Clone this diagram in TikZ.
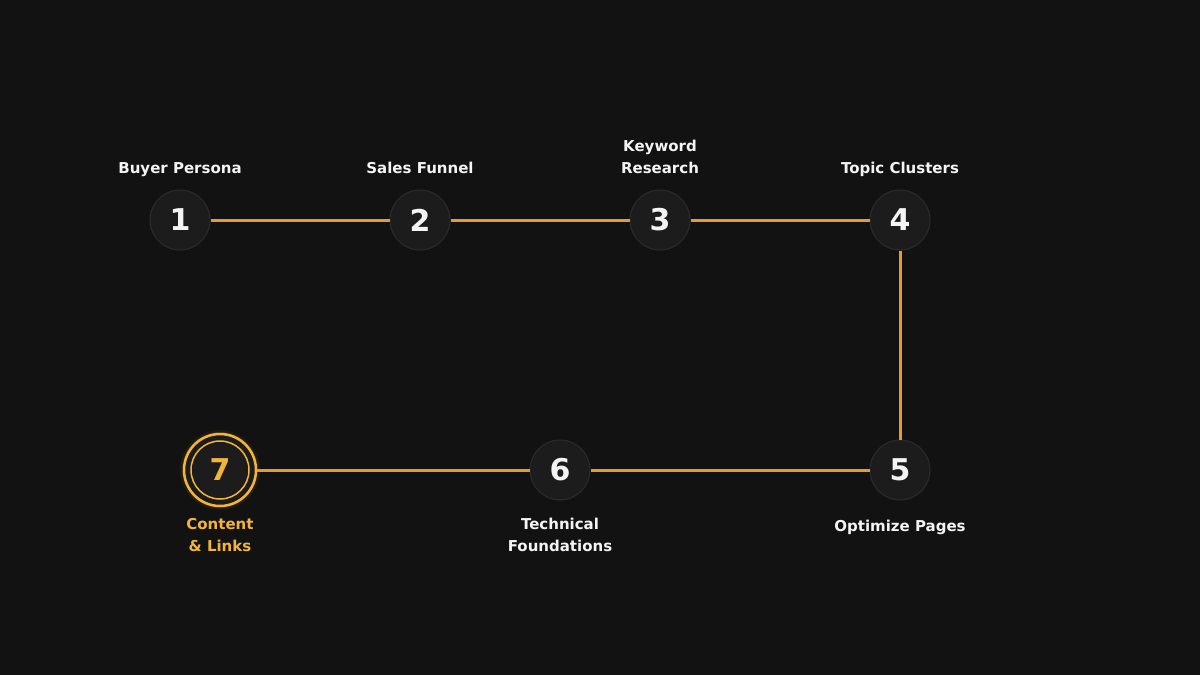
\documentclass[tikz,border=0pt]{standalone}
\usepackage{fontspec}
\setmainfont{DejaVu Sans}
\usepackage{xcolor}
\usetikzlibrary{positioning}
\definecolor{bgdark}{HTML}{121212}
\definecolor{discfill}{HTML}{1C1C1C}
\definecolor{discline}{HTML}{2C2C2C}
\definecolor{amber}{HTML}{E49C30}
\definecolor{amberlite}{HTML}{F2B53A}
\definecolor{paper}{HTML}{F4F4F4}
\tikzset{
  stepdisc/.style={circle, minimum size=60pt, inner sep=0pt, fill=discfill,
    draw=discline, line width=1pt, text=paper, font=\bfseries\fontsize{30}{30}\selectfont},
  lbl/.style={text=paper, inner sep=0pt, align=center, text height=11pt, text depth=4pt,
    font=\bfseries\fontsize{15}{22}\selectfont},
  link/.style={draw=amber, line width=3pt},
}

\begin{document}
\begin{tikzpicture}[x=1pt,y=-1pt]
  % canvas
  \useasboundingbox[fill=bgdark] (0,0) rectangle (1200,675);
  \def\rowa{220}  % top row
  \def\rowb{470}  % bottom row
  % the seven steps
  \node[stepdisc] (s1) at (180,\rowa) {1};
  \node[stepdisc] (s2) at (420,\rowa) {2};
  \node[stepdisc] (s3) at (660,\rowa) {3};
  \node[stepdisc] (s4) at (900,\rowa) {4};
  \node[stepdisc] (s5) at (900,\rowb) {5};
  \node[stepdisc] (s6) at (560,\rowb) {6};
  % current step, with glow
  \foreach \r/\o in {40/0.06,38/0.12}
    \fill[amber, opacity=\o] (220,\rowb) circle (\r);
  \node[circle, minimum size=72pt, inner sep=0pt, fill=discfill,
        draw=amberlite, line width=2.5pt] (s7) at (220,\rowb) {};
  \node[stepdisc, minimum size=58pt, draw=amberlite, line width=1.5pt,
        text=amberlite] (s7in) at (s7) {7};
  % connectors
  \draw[link] (s1) -- (s2);
  \draw[link] (s2) -- (s3);
  \draw[link] (s3) -- (s4);
  \draw[link] (s4) -- (s5);
  \draw[link] (s5) -- (s6);
  \draw[link] (s6) -- (s7);
  % labels (two-line boxes below: +22pt for the first line)
  \node[lbl, above=11.5pt of s1] (l1) {Buyer Persona};
  \node[lbl, above=11.5pt of s2] (l2) {Sales Funnel};
  \node[lbl, above=11.5pt of s3] (l3) {Keyword\\Research};
  \node[lbl, above=11.5pt of s4] (l4) {Topic Clusters};
  \node[lbl, below=19.5pt of s5] (l5) {Optimize Pages};
  \node[lbl, below=39.5pt of s6] (l6) {Technical\\Foundations};
  \node[lbl, text=amberlite, below=33.5pt of s7] (l7) {Content\\\& Links};
\end{tikzpicture}
\end{document}
